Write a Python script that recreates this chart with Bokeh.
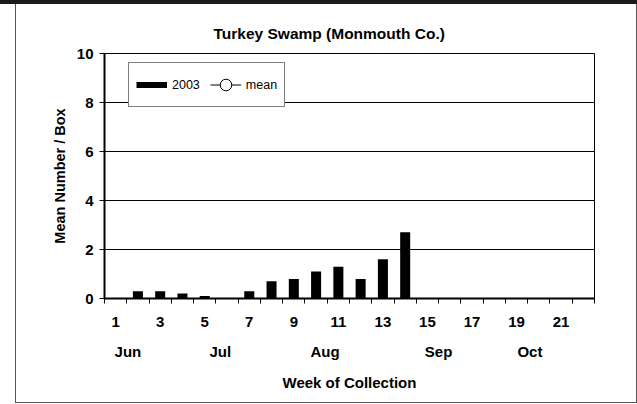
from bokeh.plotting import figure
from bokeh.models import Range1d, FixedTicker, LinearAxis, Legend, LegendItem
from bokeh.embed import file_html
from bokeh.resources import INLINE

# ---- data ----
weeks = list(range(1, 23))
counts_2003 = [0, 0.3, 0.3, 0.2, 0.1, 0, 0.3, 0.7, 0.8, 1.1, 1.3, 0.8, 1.6, 2.7,
               0, 0, 0, 0, 0, 0, 0, 0]
week_tick_labels = [1, 3, 5, 7, 9, 11, 13, 15, 17, 19, 21]
month_names = ["Jun", "Jul", "Aug", "Sep", "Oct"]
month_centers = [1.55, 5.7, 10.4, 15.5, 19.6]
y_ticks = [0, 2, 4, 6, 8, 10]
title_text = "Turkey Swamp (Monmouth Co.)"
y_title = "Mean Number / Box"
x_title = "Week of Collection"
nan = float("nan")

FONT = "Liberation Sans"
W, H = 637, 404

p = figure(width=W, height=H,
           x_range=Range1d(0.5, 22.5), y_range=Range1d(0, 10),
           output_backend="svg", toolbar_location=None,
           min_border_left=104, min_border_right=43,
           min_border_top=53, min_border_bottom=106,
           background_fill_color="white", border_fill_alpha=0)

# outer chart border (thick rule on top) painted behind the transparent canvas border
p.styles = {"background":
            "linear-gradient(#1a1a1a, #1a1a1a) 0px 0px / 100% 4px no-repeat, "
            "linear-gradient(#555555, #555555) 15px 0px / 1px 403px no-repeat, "
            "linear-gradient(#555555, #555555) 636px 0px / 1px 403px no-repeat, "
            "linear-gradient(#555555, #555555) 15px 402px / 622px 1px no-repeat, "
            "white"}

p.outline_line_color = "black"
p.outline_line_width = 1

# title
p.title.text = title_text
p.title.align = "left"
p.title.offset = 109
p.title.text_font = FONT
p.title.text_font_style = "bold"
p.title.text_font_size = "15.5px"
p.title.text_color = "black"
p.title.standoff = 23

# bars
bars = p.vbar(x=weeks, top=counts_2003, width=0.45,
              fill_color="black", line_color=None)

# legend keys (no visible data of their own)
bar_key = p.line(x=[nan], y=[nan], line_color="black", line_width=6, line_cap="butt")
mean_line = p.line(x=[nan], y=[nan], line_color="black", line_width=1)
mean_pts = p.scatter(x=[nan], y=[nan], size=5, fill_color="white",
                     line_color="black", line_width=1)

# y axis
ya = p.yaxis[0]
ya.ticker = FixedTicker(ticks=y_ticks)
ya.axis_line_color = "black"
ya.axis_line_width = 2
ya.major_tick_out = 5
ya.major_tick_in = 0
ya.minor_tick_out = 0
ya.minor_tick_in = 0
ya.major_tick_line_color = "black"
ya.major_label_text_font = FONT
ya.major_label_text_font_style = "bold"
ya.major_label_text_font_size = "15px"
ya.major_label_text_color = "black"
ya.major_label_standoff = 6
ya.axis_label = y_title
ya.axis_label_text_font = FONT
ya.axis_label_text_font_style = "bold"
ya.axis_label_text_font_size = "14.5px"
ya.axis_label_text_color = "black"
ya.axis_label_standoff = 6

# x axis (week numbers + category boundary ticks)
xa = p.xaxis[0]
xa.ticker = FixedTicker(ticks=week_tick_labels,
                        minor_ticks=[w - 0.5 for w in weeks] + [weeks[-1] + 0.5])
xa.axis_line_color = "black"
xa.axis_line_width = 2
xa.major_tick_out = 0
xa.major_tick_in = 0
xa.minor_tick_out = 5
xa.minor_tick_in = 0
xa.minor_tick_line_color = "black"
xa.minor_tick_line_width = 1
xa.major_label_text_font = FONT
xa.major_label_text_font_style = "bold"
xa.major_label_text_font_size = "15px"
xa.major_label_text_color = "black"
xa.major_label_standoff = 13

# month axis
ma = LinearAxis(ticker=FixedTicker(ticks=month_centers),
                major_label_overrides={c: m for c, m in zip(month_centers, month_names)})
ma.axis_line_color = None
ma.major_tick_line_color = None
ma.minor_tick_line_color = None
ma.major_label_text_font = FONT
ma.major_label_text_font_style = "bold"
ma.major_label_text_font_size = "15px"
ma.major_label_text_color = "black"
ma.major_label_standoff = 7
ma.axis_label = x_title
ma.axis_label_text_font = FONT
ma.axis_label_text_font_style = "bold"
ma.axis_label_text_font_size = "15px"
ma.axis_label_text_color = "black"
ma.axis_label_standoff = 11
p.add_layout(ma, "below")

# grids
p.xgrid.visible = False
p.ygrid.ticker = FixedTicker(ticks=y_ticks)
p.ygrid.grid_line_color = "black"
p.ygrid.grid_line_width = 1

legend = Legend(items=[LegendItem(label="2003", renderers=[bar_key]),
                       LegendItem(label="mean", renderers=[mean_line, mean_pts])],
                orientation="horizontal", location=(24, 191), margin=0,
                padding=7, spacing=10, glyph_width=31, glyph_height=29,
                label_height=29, label_standoff=5,
                label_text_font=FONT, label_text_font_size="12.5px",
                label_text_color="black",
                border_line_color="black", border_line_width=1,
                background_fill_color="white", background_fill_alpha=1)
p.add_layout(legend)

open("out.html", "w").write(file_html(p, INLINE))
